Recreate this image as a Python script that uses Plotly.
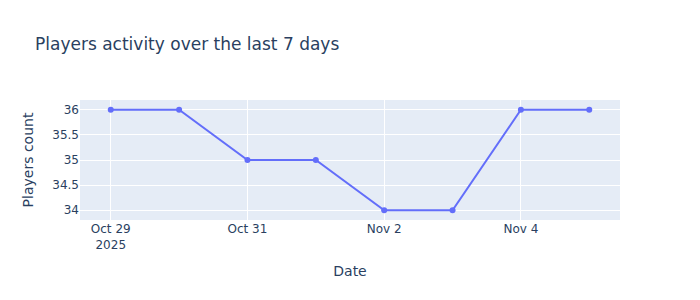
import plotly.graph_objects as go

dates = ["2025-10-29", "2025-10-30", "2025-10-31", "2025-11-01",
         "2025-11-02", "2025-11-03", "2025-11-04", "2025-11-05"]
players = [36, 36, 35, 35, 34, 34, 36, 36]

fig = go.Figure(go.Scatter(x=dates, y=players, mode="lines+markers"))
fig.update_layout(
    title="Players activity over the last 7 days",
    xaxis_title="Date",
    yaxis_title="Players count",
    width=700, height=300,
    font=dict(family="DejaVu Sans"),
)
fig.write_html("out.html")
